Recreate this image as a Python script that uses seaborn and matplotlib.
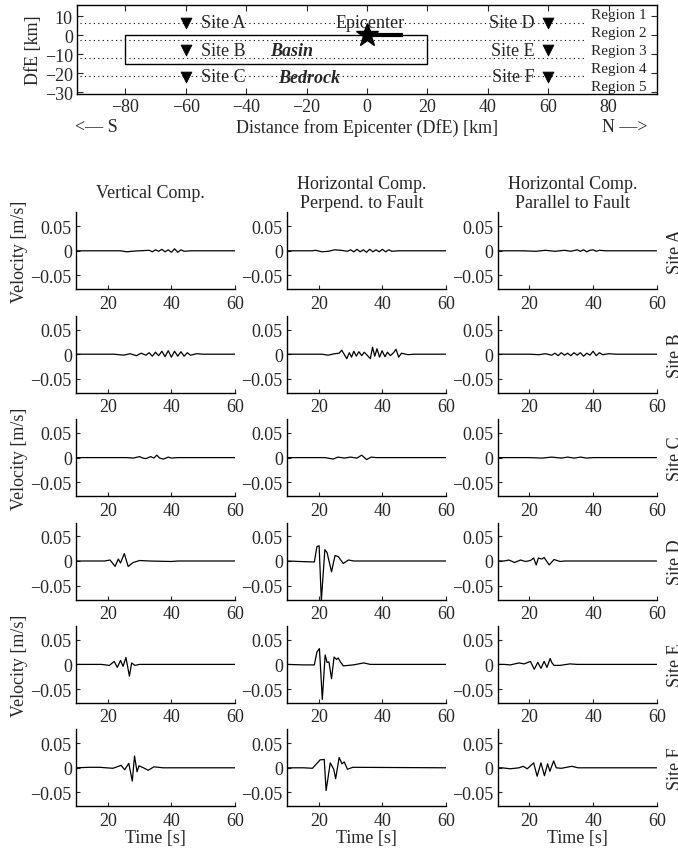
import matplotlib
matplotlib.use("Agg")
import matplotlib.pyplot as plt
import numpy as np
import pandas as pd
import seaborn as sns
from matplotlib.patches import Rectangle

# ---------------- map of the study area ----------------
site_names = ["Site A", "Site B", "Site C", "Site D", "Site E", "Site F"]
site_x = [-60, -60, -60, 60, 60, 60]
site_y = [6.6, -8.0, -22.0, 6.6, -8.0, -22.0]
region_names = ["Region 1", "Region 2", "Region 3", "Region 4", "Region 5"]
region_label_y = [11.1, 1.6, -8.3, -17.8, -27.0]
region_bounds = [6.6, -2.8, -12.2, -21.6]
basin_x = [-80, 20]
basin_y = [-15, 0]
epicenter_xy = [0, 0]
fault_x = [0, 12]
map_xticks = [-80, -60, -40, -20, 0, 20, 40, 60, 80]
map_yticks = [-30, -20, -10, 0, 10]

# ---------------- velocity traces (time [s], velocity [m/s]) ----------------
components = ["Vertical Comp.", "Horizontal Comp.\nPerpend. to Fault",
              "Horizontal Comp.\nParallel to Fault"]
comp_keys = ["vert", "perp", "para"]
sites = ["A", "B", "C", "D", "E", "F"]

a_vert_t = [10, 24, 26, 27.5, 30, 33, 34, 35, 36, 37, 38, 39, 40, 41, 42, 43, 44, 46, 60]
a_vert_v = [0, 0, -0.002, -0.001, 0, 0.001, -0.002, 0.002, -0.001, 0.003, -0.002, 0.002,
            -0.003, 0.004, -0.003, 0.002, -0.001, 0, 0]
a_perp_t = [10, 18, 19, 21, 23, 25, 27, 29, 30, 31, 32, 33, 34, 35, 36, 37, 38, 39, 40,
            41, 42, 43, 45, 60]
a_perp_v = [0, 0, 0.001, -0.002, -0.001, 0.002, 0.001, -0.001, 0.002, -0.002, 0.003,
            -0.002, 0.002, -0.003, 0.003, -0.002, 0.002, -0.002, 0.003, -0.002, 0.002,
            -0.001, 0, 0]
a_para_t = [10, 18, 22, 25, 28, 31, 33, 35, 36, 37, 38, 39, 40, 41, 42, 44, 60]
a_para_v = [0, 0, -0.001, 0.001, -0.001, 0.001, -0.001, 0.002, -0.001, 0.002, -0.002,
            0.001, 0.002, -0.001, 0.001, 0, 0]

b_vert_t = [10, 22, 25, 27, 29, 30.5, 32, 33, 34, 35, 36, 37, 38, 39, 40, 41, 42, 43, 44,
            45, 46, 48, 50, 60]
b_vert_v = [0, 0, -0.002, 0.001, -0.003, 0.002, -0.002, 0.003, -0.004, 0.004, -0.003,
            0.006, -0.005, 0.007, -0.006, 0.006, -0.004, 0.005, -0.004, 0.003, -0.002,
            0.001, 0, 0]
b_perp_t = [10, 21, 22.9, 25, 26.4, 27.2, 28.8, 29.6, 30.3, 31.0, 31.8, 32.6, 33.5, 34.3,
            35.2, 36.2, 36.9, 37.6, 38.3, 39.1, 39.9, 40.8, 41.6, 42.5, 43.5, 44.3, 45.1,
            46, 48, 50, 60]
b_perp_v = [0, 0, -0.002, 0.001, 0.002, 0.008, -0.009, 0.003, -0.006, 0.006, -0.004,
            0.005, -0.003, 0.004, -0.002, -0.009, 0.014, -0.004, 0.011, -0.006, 0.007,
            -0.005, 0.004, -0.003, 0.003, 0.010, -0.006, 0.002, -0.001, 0, 0]
b_para_t = [10, 20, 23, 25, 27, 28, 29, 30, 31, 32, 33, 34, 35, 36, 37, 38, 39, 40, 41,
            42, 43, 45, 47, 60]
b_para_v = [0, 0, -0.001, 0.001, -0.002, 0.002, -0.003, 0.003, -0.002, 0.002, -0.003,
            0.003, -0.002, 0.003, -0.004, 0.002, -0.002, 0.006, -0.003, 0.003, -0.001,
            0.001, 0, 0]

c_vert_t = [10, 26, 28, 30, 31, 32, 33.5, 34.5, 35.4, 36.3, 37.5, 39, 40, 42, 60]
c_vert_v = [0, 0, -0.001, 0.002, -0.001, -0.002, 0.002, -0.001, 0.005, -0.001, -0.003,
            0.001, -0.001, 0, 0]
c_perp_t = [10, 22, 24.5, 26, 28, 30, 32, 33.5, 35, 36.5, 38, 60]
c_perp_v = [0, 0, -0.003, 0.001, -0.001, 0.001, -0.001, 0.005, -0.004, 0.001, 0, 0]
c_para_t = [10, 20, 24, 27, 30, 32, 34, 36, 38, 40, 60]
c_para_v = [0, 0, -0.001, 0.001, -0.001, 0.001, -0.001, 0.001, -0.001, 0, 0]

d_vert_t = [10, 19, 20.7, 22.3, 23.3, 24, 25.2, 26.4, 28, 30, 33, 40, 42, 60]
d_vert_v = [0, 0, 0.002, -0.011, 0.004, -0.004, 0.015, -0.011, -0.003, 0.001, 0,
            -0.001, 0, 0]
d_perp_t = [10, 14, 18.6, 19.4, 20.1, 20.8, 21.9, 22.6, 24.0, 25.1, 26.1, 27.7, 29.3,
            31, 60]
d_perp_v = [0, -0.001, -0.002, 0.029, 0.031, -0.080, 0.023, 0.017, -0.022, 0.011,
            0.009, -0.005, 0.002, 0, 0]
d_para_t = [10, 12, 13.5, 15.3, 17.2, 18.7, 20.3, 21.3, 22.1, 22.8, 23.9, 24.6, 26.2,
            27.7, 29.6, 31, 60]
d_para_v = [0, 0, 0.002, -0.003, 0.002, -0.001, 0.001, 0.006, -0.008, 0.006, 0.004,
            0.007, -0.008, 0.003, -0.001, 0, 0]

e_vert_t = [10, 18, 20.5, 22, 23, 24, 24.8, 25.7, 26.8, 27.5, 28.5, 30, 60]
e_vert_v = [0, 0, -0.002, 0.006, -0.006, 0.008, -0.004, 0.014, -0.024, 0.003, -0.002,
            0, 0]
e_perp_t = [10, 15, 18.6, 19.4, 20.2, 21.1, 22.0, 22.6, 23.2, 24.0, 24.8, 25.6, 26.1,
            26.8, 27.7, 30.9, 34.1, 36.2, 60]
e_perp_v = [0, -0.001, -0.001, 0.025, 0.032, -0.071, 0.019, 0.004, 0.005, -0.029, 0.015,
            0.010, 0.013, 0.005, -0.003, -0.001, 0.003, 0, 0]
e_para_t = [10, 12, 14, 16.7, 18.3, 20.3, 21.5, 22.6, 23.6, 24.6, 25.5, 26.5, 27, 27.7,
            29.6, 32.7, 35, 60]
e_para_v = [0, 0, -0.001, 0.003, 0.001, 0.006, -0.010, 0.004, -0.008, 0.006, -0.006,
            0.012, 0.004, -0.002, -0.002, 0.001, 0, 0]

f_vert_t = [10, 14.2, 17.4, 21.6, 24.2, 25.3, 26.6, 27.7, 28.4, 29.2, 29.8, 30.9, 32.7,
            34.5, 37.4, 60]
f_vert_v = [0, 0.001, 0.001, -0.001, 0.005, -0.004, 0.009, -0.027, 0.024, -0.008, 0.004,
            0.001, -0.005, 0.002, 0, 0]
f_perp_t = [10, 15.3, 18, 20.4, 21.7, 22.3, 23.6, 24.7, 25.3, 26.4, 27.3, 28, 29, 30.7, 60]
f_perp_v = [0, 0, -0.001, 0.016, 0.017, -0.046, 0.010, -0.003, -0.022, 0.021, 0.008,
            0.012, -0.003, 0.001, 0]
f_para_t = [10, 11.3, 14, 16.7, 18, 19.3, 21.3, 22.4, 23.6, 24.7, 25.7, 26.4, 27.6, 28.4,
            30, 33.3, 35.3, 60]
f_para_v = [0, 0, -0.002, 0, 0.003, -0.002, 0.010, -0.017, 0.010, -0.016, 0.008, -0.007,
            0.014, 0, -0.001, 0.003, 0, 0]

vel_yticks = [-0.05, 0, 0.05]
vel_yticklabels = ["\u22120.05", "0", "0.05"]
time_xticks = [20, 40, 60]

# assemble a long table of all traces
rows = []
for s in sites:
    for k in comp_keys:
        t_vals = globals()[f"{s.lower()}_{k}_t"]
        v_vals = globals()[f"{s.lower()}_{k}_v"]
        for i, (t, v) in enumerate(zip(t_vals, v_vals)):
            rows.append({"site": s, "comp": k, "order": i, "time": t, "vel": v})
traces = pd.DataFrame(rows)

# ---------------- styling ----------------
sns.set_style("ticks", rc={"xtick.direction": "in", "ytick.direction": "in"})
plt.rcParams["font.family"] = ["Liberation Serif", "DejaVu Serif"]
plt.rcParams["axes.unicode_minus"] = True
FS = 13

W, H = 678, 853
fig = plt.figure(figsize=(W / 100, H / 100), dpi=100)
fig.patch.set_facecolor("white")


def add_axes_px(left, top, width, height):
    return fig.add_axes([left / W, 1 - (top + height) / H, width / W, height / H])


# ---------------- map panel ----------------
ax = add_axes_px(77, 5.7, 580, 89.3)
ax.set_facecolor("white")
for yb in region_bounds:
    ax.plot([-95, 72], [yb, yb], ls=(0, (1, 3)), color="k", lw=0.8)
ax.add_patch(Rectangle((basin_x[0], basin_y[0]), basin_x[1] - basin_x[0],
                       basin_y[1] - basin_y[0], fill=False, ec="k", lw=1.0))
ax.plot(fault_x, [0, 0], color="k", lw=3, solid_capstyle="butt")
ax.plot(epicenter_xy[0], epicenter_xy[1], marker="*", ms=17, color="k", mec="k")
site_df = pd.DataFrame({"x": site_x, "y": site_y, "name": site_names})
sns.scatterplot(data=site_df, x="x", y="y", marker="v", s=60, color="k",
                edgecolor="k", ax=ax, legend=False, zorder=3)
for name, x, y in zip(site_names, site_x, site_y):
    if x < 0:
        ax.text(x + 5, y, name, ha="left", va="center", fontsize=FS)
    else:
        ax.text(x - 4.5, y, name, ha="right", va="center", fontsize=FS)
ax.text(1, 6.8, "Epicenter", ha="center", va="center", fontsize=FS)
ax.text(-25, -8.0, "Basin", ha="center", va="center", fontsize=FS,
        fontweight="bold", fontstyle="italic")
ax.text(-19, -22.3, "Bedrock", ha="center", va="center", fontsize=FS,
        fontweight="bold", fontstyle="italic")
for name, y in zip(region_names, region_label_y):
    ax.text(92.5, y, name, ha="right", va="center", fontsize=11)
ax.set_xlim(-96, 96)
ax.set_ylim(-31, 16)
ax.set_xticks(map_xticks)
ax.set_yticks(map_yticks)
ax.tick_params(direction="in", top=True, right=True, length=4, width=0.8,
               labelsize=FS, pad=3)
for sp in ax.spines.values():
    sp.set_visible(True)
    sp.set_linewidth(1.0)
    sp.set_color("k")
ax.set_xlabel("Distance from Epicenter (DfE) [km]", fontsize=FS, labelpad=2)
ax.set_ylabel("DfE [km]", fontsize=FS, labelpad=2)
fig.text(96.5 / W, 1 - 128 / H, "<\u2014 S", ha="center", va="center", fontsize=FS)
fig.text(625 / W, 1 - 128 / H, "N \u2014>", ha="center", va="center", fontsize=FS)

# ---------------- velocity grid ----------------
col_left = [76, 287, 497.7]
ax_w = 159
row_top0 = 213.3
row_pitch = 103.4
ax_h = 77

for r, s in enumerate(sites):
    top = row_top0 + r * row_pitch
    for c, k in enumerate(comp_keys):
        a = add_axes_px(col_left[c], top, ax_w, ax_h)
        sub = traces[(traces.site == s) & (traces.comp == k)].sort_values("order")
        sns.lineplot(data=sub, x="time", y="vel", sort=False, estimator=None,
                     color="k", lw=0.9, ax=a, legend=False)
        a.set_xlim(10, 60)
        a.set_ylim(-0.078, 0.078)
        a.set_xticks(time_xticks)
        a.set_yticks(vel_yticks, labels=vel_yticklabels)
        a.tick_params(direction="in", length=3, width=0.8, labelsize=FS, pad=3)
        a.tick_params(axis="x", pad=4)
        sns.despine(ax=a)
        for sp in ("left", "bottom"):
            a.spines[sp].set_linewidth(1.0)
            a.spines[sp].set_color("k")
        a.set_ylabel("")
        if r == len(sites) - 1:
            a.set_xlabel("Time [s]", fontsize=FS, labelpad=0)
        else:
            a.set_xlabel("")
        if r == 0:
            a.set_title(components[c], fontsize=FS, x=0.47,
                        pad=11 if c == 0 else 3.5)
    yc = 1 - (top + ax_h / 2) / H
    fig.text(667 / W, yc, f"Site {s}", rotation=90, ha="left", va="center",
             fontsize=FS)
    if r % 2 == 0:
        fig.text(19.5 / W, yc, "Velocity [m/s]", rotation=90, ha="center",
                 va="center", fontsize=FS)

fig.savefig("out.png", dpi=100, facecolor="white")
